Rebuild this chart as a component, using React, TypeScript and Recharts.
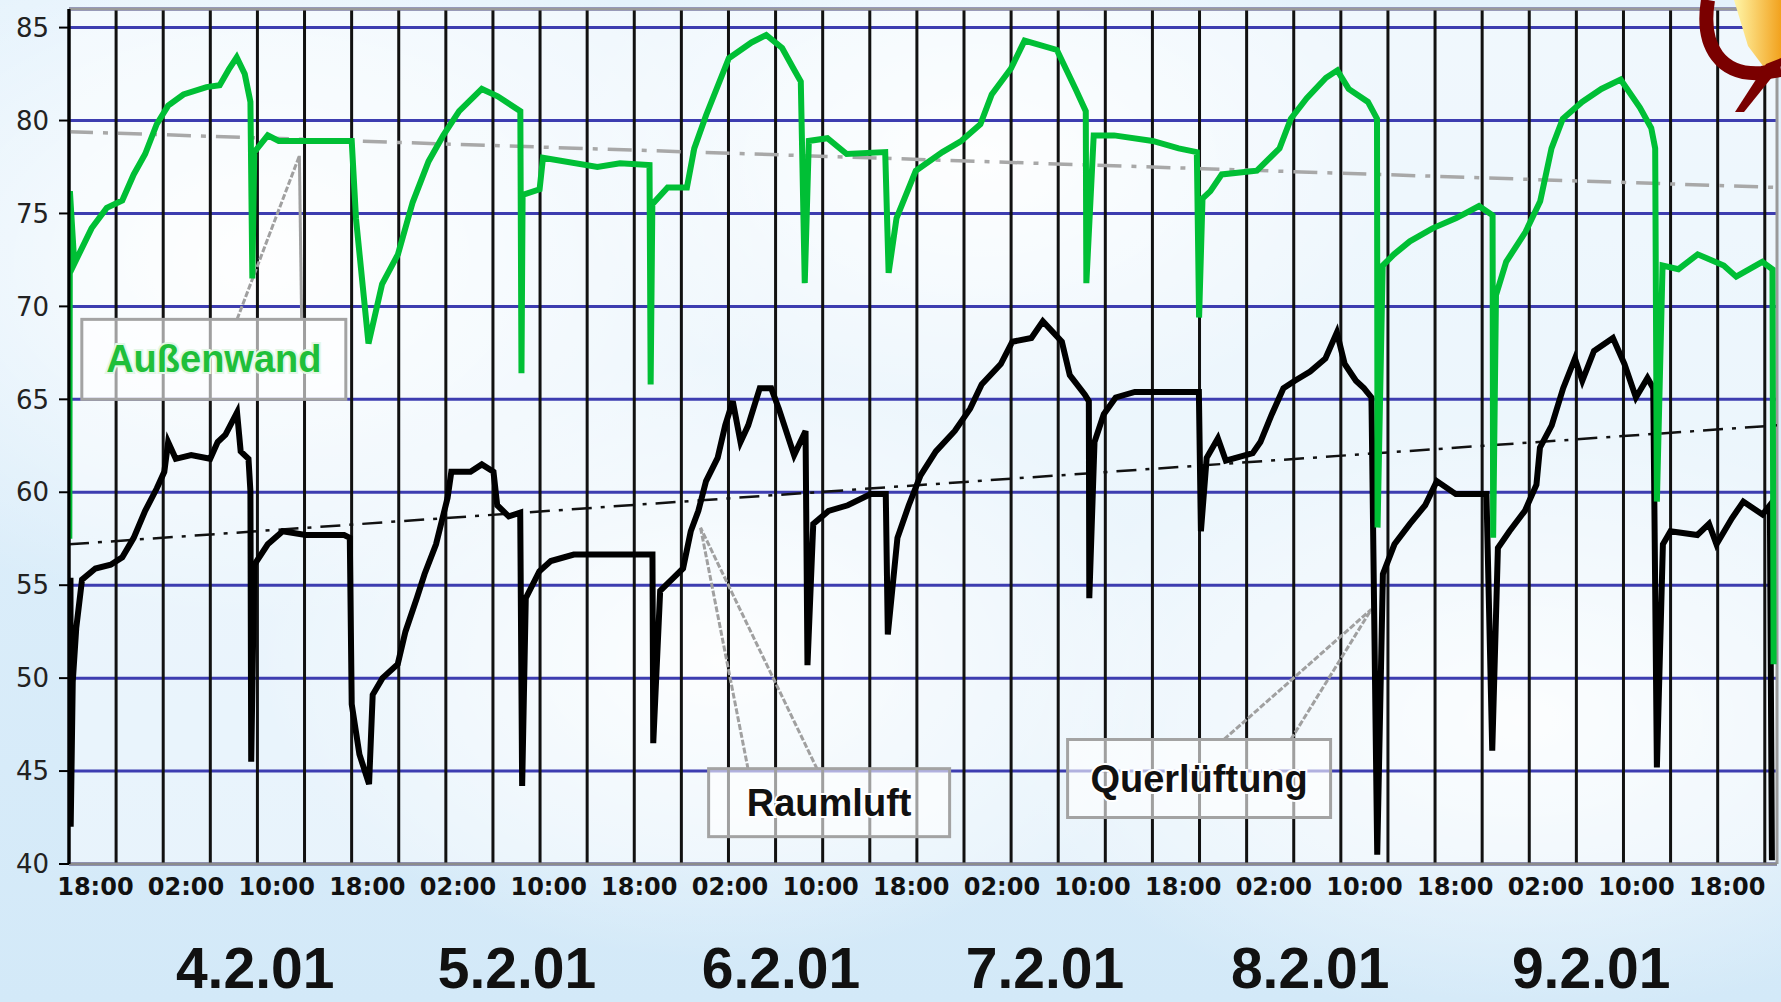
import { LineChart, Line, XAxis, YAxis, CartesianGrid, ReferenceLine, ReferenceDot } from 'recharts'

// time axis: hours counted from 18:00 on 3.2.01
const hourTicks = [0, 8, 16, 24, 32, 40, 48, 56, 64, 72, 80, 88, 96, 104, 112, 120, 128, 136, 144]
const hourLabels = ['18:00', '02:00', '10:00', '18:00', '02:00', '10:00', '18:00', '02:00', '10:00', '18:00',
    '02:00', '10:00', '18:00', '02:00', '10:00', '18:00', '02:00', '10:00', '18:00']
const dayTicks = [14.1, 37.2, 60.5, 83.8, 107.2, 132.0]
const dayLabels = ['4.2.01', '5.2.01', '6.2.01', '7.2.01', '8.2.01', '9.2.01']
const tempTicks = [40, 45, 50, 55, 60, 65, 70, 75, 80, 85]

// Außenwand (green)
const wallHours = [-2.3, -2.25, -1.86, -0.34, 1.0, 2.37, 3.38, 4.39, 5.41, 6.42, 7.77, 9.8, 10.97, 11.82, 12.47, 13.18, 13.68, 13.85, 14.02, 15.21,
    16.18, 22.62, 23.0, 24.1, 25.3, 26.7, 28.0, 29.4, 30.7, 32.1, 34.1, 35.5, 37.5, 37.6, 37.7, 39.2, 39.5, 44.3, 46.3, 48.9,
    49.0, 49.15, 50.5, 52.2, 52.85, 53.9, 55.9, 57.9, 59.2, 60.6, 61.6, 62.25, 62.6, 62.96, 64.6, 66.3, 69.7, 70.0, 70.7, 72.4,
    74.75, 76.4, 78.1, 79.1, 80.8, 82.0, 84.85, 86.5, 87.4, 87.45, 88.1, 89.9, 93.3, 95.6, 97.2, 97.4, 97.7, 98.4, 99.4, 102.5,
    104.5, 105.5, 106.9, 108.6, 109.6, 110.6, 112.3, 113.1, 113.15, 113.6, 114.6, 116.0, 118.0, 120.1, 122.1, 123.3, 123.35, 123.6, 124.5, 126.2,
    127.5, 128.5, 129.5, 131.2, 132.9, 134.6, 136.3, 137.3, 137.65, 137.8, 138.3, 139.7, 141.4, 143.7, 144.8, 147.1, 148.0, 148.1]
const wallTemps = [57.5, 76.2, 72.3, 74.2, 75.3, 75.7, 77.1, 78.2, 79.8, 80.8, 81.4, 81.8, 81.9, 82.8, 83.4, 82.5, 81.0, 71.5, 78.3, 79.2,
    78.9, 78.9, 74.7, 68.0, 71.2, 72.8, 75.6, 77.8, 79.2, 80.5, 81.7, 81.3, 80.5, 66.4, 76.0, 76.3, 78.0, 77.5, 77.7, 77.6,
    65.8, 75.5, 76.4, 76.4, 78.5, 80.3, 83.35, 84.2, 84.6, 83.9, 82.8, 82.1, 71.25, 78.9, 79.05, 78.2, 78.3, 71.8, 74.75, 77.3,
    78.3, 78.9, 79.8, 81.4, 82.8, 84.3, 83.8, 81.7, 80.5, 71.25, 79.2, 79.2, 78.9, 78.5, 78.3, 69.4, 75.8, 76.2, 77.1, 77.3,
    78.5, 80.1, 81.2, 82.3, 82.7, 81.7, 81.0, 80.1, 58.1, 72.2, 72.8, 73.5, 74.2, 74.75, 75.4, 74.9, 57.55, 70.6, 72.4, 74.0,
    75.65, 78.5, 80.1, 81.0, 81.7, 82.2, 80.7, 79.6, 78.5, 59.5, 72.2, 72.0, 72.8, 72.2, 71.6, 72.4, 72.0, 50.75]

// Raumluft (black)
const airHours = [-2.2, -2.18, -2.0, -1.69, -1.18, 0.0, 1.35, 2.37, 3.38, 4.39, 5.41, 6.08, 6.42, 7.09, 8.45, 10.13, 10.79, 11.48, 12.5, 12.82,
    13.51, 13.68, 13.75, 14.02, 15.21, 16.53, 18.56, 21.95, 22.45, 22.62, 23.3, 24.15, 24.47, 25.33, 26.68, 27.36, 28.36, 29.05, 30.06, 31.08,
    31.41, 33.1, 34.1, 35.13, 35.46, 36.48, 37.49, 37.66, 37.98, 39.18, 40.19, 42.22, 49.16, 49.23, 49.84, 50.85, 51.86, 52.54, 53.21, 53.89,
    54.91, 55.58, 56.25, 56.93, 57.61, 58.63, 59.64, 60.31, 61.66, 62.67, 62.84, 63.35, 64.7, 66.4, 68.42, 69.75, 69.93, 70.78, 71.78, 72.81,
    74.17, 75.84, 77.2, 78.21, 79.9, 80.92, 82.6, 83.61, 85.29, 85.99, 87.32, 87.67, 87.71, 88.17, 88.99, 90.04, 91.73, 97.38, 97.56, 98.07,
    99.06, 99.76, 102.13, 102.81, 103.82, 104.84, 105.85, 107.2, 108.55, 109.56, 110.25, 111.24, 111.94, 112.61, 113.12, 113.62, 114.64, 116.0, 117.35, 118.38,
    120.06, 122.76, 123.27, 123.77, 124.79, 126.15, 127.17, 127.48, 128.52, 129.53, 130.57, 131.22, 132.25, 133.92, 134.94, 135.95, 136.97, 137.48, 137.8, 138.33,
    139.0, 141.37, 142.4, 143.06, 144.42, 145.43, 147.12, 147.77, 147.95]
const airTemps = [55.4, 42.0, 49.8, 52.7, 55.3, 55.9, 56.1, 56.5, 57.55, 59.0, 60.2, 61.1, 62.7, 61.8, 62.0, 61.8, 62.7, 63.1, 64.3, 62.2,
    61.8, 60.05, 45.5, 56.1, 57.2, 57.9, 57.7, 57.7, 57.55, 48.6, 45.9, 44.3, 49.1, 50.0, 50.75, 52.5, 54.3, 55.6, 57.2, 59.7,
    61.1, 61.1, 61.5, 61.1, 59.3, 58.7, 58.9, 44.2, 54.3, 55.75, 56.3, 56.65, 56.65, 46.5, 54.7, 55.3, 55.9, 57.9, 59.0, 60.6,
    61.85, 63.6, 64.9, 62.7, 63.6, 65.6, 65.6, 64.5, 62.0, 63.3, 50.7, 58.3, 59.0, 59.3, 59.9, 59.9, 52.35, 57.55, 59.3, 60.9,
    62.2, 63.3, 64.5, 65.8, 66.9, 68.1, 68.3, 69.2, 68.1, 66.3, 65.25, 64.9, 54.3, 62.7, 64.2, 65.1, 65.4, 65.4, 57.9, 61.85,
    62.9, 61.7, 62.1, 62.7, 64.2, 65.6, 66.0, 66.5, 67.2, 68.6, 66.9, 66.0, 65.6, 65.1, 40.5, 55.6, 57.2, 58.3, 59.3, 60.6,
    59.9, 59.9, 46.1, 57.0, 57.9, 59.0, 60.4, 62.4, 63.6, 65.6, 67.2, 66.0, 67.6, 68.3, 66.9, 65.1, 66.15, 65.6, 45.2, 57.2,
    57.9, 57.7, 58.3, 57.2, 58.6, 59.5, 58.8, 59.3, 40.2]

// linear trend lines
const trendHours = [-2.33, 148.4]
const wallTrend = [79.4, 76.4]
const airTrend = [57.2, 63.6]

const X_MIN = -2.33
const X_MAX = 148.4
const GRID_START = -2.33
const GRID_STEP = 4.157
const gridHours = Array.from({ length: 37 }, (_, k) => GRID_START + k * GRID_STEP)

const wallData = wallHours.map((t, i) => ({ t, v: wallTemps[i] }))
const airData = airHours.map((t, i) => ({ t, v: airTemps[i] }))
const wallTrendData = trendHours.map((t, i) => ({ t, v: wallTrend[i] }))
const airTrendData = trendHours.map((t, i) => ({ t, v: airTrend[i] }))

const calloutBox = (w: number, h: number, text: string, color: string, halo: string) => (props: any) => {
    const { cx, cy } = props
    return (
        <g>
            <rect x={cx - w / 2} y={cy - h / 2} width={w} height={h} fill="rgba(255,255,255,0.6)" stroke="#a3a3a3" strokeWidth={3} />
            <text x={cx} y={cy} textAnchor="middle" dominantBaseline="central" fill={color} stroke={halo} strokeWidth={4}
                paintOrder="stroke" fontFamily="Liberation Sans, Arial, sans-serif" fontWeight={700} fontSize={38}>
                {text}
            </text>
        </g>
    )
}

const leader = { stroke: '#a0a0a0', strokeWidth: 3 }

export default function App() {
    return (
        <div style={{
            position: 'absolute', left: 0, top: 0, width: 1781, height: 1002, overflow: 'hidden',
            background: 'radial-gradient(ellipse 520px 360px at 260px 260px, rgba(255,255,255,0.95), rgba(255,255,255,0)), ' +
                'radial-gradient(ellipse 460px 300px at 720px 660px, rgba(255,255,255,0.9), rgba(255,255,255,0)), ' +
                'radial-gradient(ellipse 520px 300px at 1520px 720px, rgba(255,255,255,0.85), rgba(255,255,255,0)), ' +
                'radial-gradient(ellipse 420px 260px at 980px 160px, rgba(255,255,255,0.9), rgba(255,255,255,0)), ' +
                'linear-gradient(180deg, #e4f2fc 0%, #d3e9f8 100%)'
        }}>
            <LineChart width={1781} height={1002} margin={{ top: 9, right: 4, bottom: 0, left: 0 }}>
                <CartesianGrid vertical={false} stroke="#3d3db0" strokeWidth={3} fill="#ffffff" fillOpacity={0.45} />
                <XAxis
                    dataKey="t"
                    type="number"
                    domain={[X_MIN, X_MAX]}
                    allowDataOverflow
                    ticks={hourTicks}
                    interval={0}
                    tickFormatter={(v: number) => hourLabels[hourTicks.indexOf(v)]}
                    height={50}
                    tickSize={0}
                    tickMargin={14}
                    axisLine={{ stroke: '#8c8c8c', strokeWidth: 3 }}
                    tick={{ fill: '#111', fontSize: 24, fontWeight: 700, fontFamily: 'DejaVu Sans' }}
                />
                <XAxis
                    xAxisId="day"
                    dataKey="t"
                    type="number"
                    domain={[X_MIN, X_MAX]}
                    allowDataOverflow
                    ticks={dayTicks}
                    interval={0}
                    tickFormatter={(v: number) => dayLabels[dayTicks.indexOf(v)]}
                    height={88}
                    tickSize={0}
                    tickMargin={34}
                    axisLine={false}
                    tickLine={false}
                    tick={{ fill: '#111', fontSize: 57, fontWeight: 700, fontFamily: 'Liberation Sans' }}
                />
                <YAxis
                    type="number"
                    domain={[40, 86]}
                    ticks={tempTicks}
                    interval={0}
                    width={69}
                    tickSize={10}
                    tickMargin={10}
                    axisLine={{ stroke: '#000', strokeWidth: 3 }}
                    tickLine={{ stroke: '#000', strokeWidth: 2 }}
                    tick={{ fill: '#222', fontSize: 26, fontFamily: 'DejaVu Sans' }}
                />

                {/* vertical grid */}
                {gridHours.map((h) => (
                    <ReferenceLine key={`g-${h}`} x={h} stroke="#111" strokeWidth={3} />
                ))}
                <ReferenceLine y={86} stroke="#9a9a9a" strokeWidth={3} />
                <ReferenceLine x={X_MAX} stroke="#9a9a9a" strokeWidth={3} />

                {/* callout leaders */}
                <ReferenceLine segment={[{ x: 12.5, y: 69.3 }, { x: 18.0, y: 78.1 }]} {...leader} strokeDasharray="6 2" />
                <ReferenceLine segment={[{ x: 18.2, y: 69.3 }, { x: 18.0, y: 78.1 }]} {...leader} />
                <ReferenceLine segment={[{ x: 57.6, y: 45.1 }, { x: 53.4, y: 58.1 }]} {...leader} strokeDasharray="6 2" />
                <ReferenceLine segment={[{ x: 63.7, y: 45.1 }, { x: 53.4, y: 58.1 }]} {...leader} strokeDasharray="6 2" />
                <ReferenceLine segment={[{ x: 99.6, y: 46.7 }, { x: 112.6, y: 53.7 }]} {...leader} strokeDasharray="6 2" />
                <ReferenceLine segment={[{ x: 105.5, y: 46.7 }, { x: 112.6, y: 53.7 }]} {...leader} strokeDasharray="6 2" />

                {/* invisible carrier so the date axis gets a scale */}
                <Line xAxisId="day" data={wallTrendData} dataKey="v" stroke="none" strokeWidth={0}
                    dot={false} activeDot={false} isAnimationActive={false} legendType="none" />

                <Line data={wallTrendData} dataKey="v" stroke="#a8a8a8" strokeWidth={3.5} strokeDasharray="24 10 5 10"
                    dot={false} activeDot={false} isAnimationActive={false} />
                <Line data={airTrendData} dataKey="v" stroke="#111" strokeWidth={2.5} strokeDasharray="20 9 4 9"
                    dot={false} activeDot={false} isAnimationActive={false} />
                <Line data={airData} dataKey="v" stroke="#000" strokeWidth={6} strokeLinejoin="miter"
                    dot={false} activeDot={false} isAnimationActive={false} />
                <Line data={wallData} dataKey="v" stroke="#00bf35" strokeWidth={6} strokeLinejoin="miter"
                    dot={false} activeDot={false} isAnimationActive={false} />

                <ReferenceDot x={10.45} y={67.15} shape={calloutBox(264, 80, 'Außenwand', '#1fbf3a', '#e3f7e6')} />
                <ReferenceDot x={64.75} y={43.3} shape={calloutBox(241, 68, 'Raumluft', '#111', '#ffffff')} />
                <ReferenceDot x={97.4} y={44.6} shape={calloutBox(263, 78, 'Querlüftung', '#111', '#ffffff')} />
            </LineChart>

            {/* logo fragment, top right */}
            <svg width={1781} height={1002} style={{ position: 'absolute', left: 0, top: 0, pointerEvents: 'none' }}>
                <defs>
                    <linearGradient id="flame" x1="0" y1="0" x2="1" y2="0">
                        <stop offset="0%" stopColor="#fff6a8" />
                        <stop offset="100%" stopColor="#f2a21e" />
                    </linearGradient>
                </defs>
                <polygon points="1734,0 1781,0 1781,60 1766,70 1748,46" fill="url(#flame)" />
                <path d="M1708,0 C1700,48 1722,76 1762,73 L1781,70" fill="none" stroke="#7a0000" strokeWidth={14} />
                <polygon points="1766,64 1781,58 1781,66 1744,112 1735,112" fill="#7a0000" />
            </svg>
        </div>
    )
}
